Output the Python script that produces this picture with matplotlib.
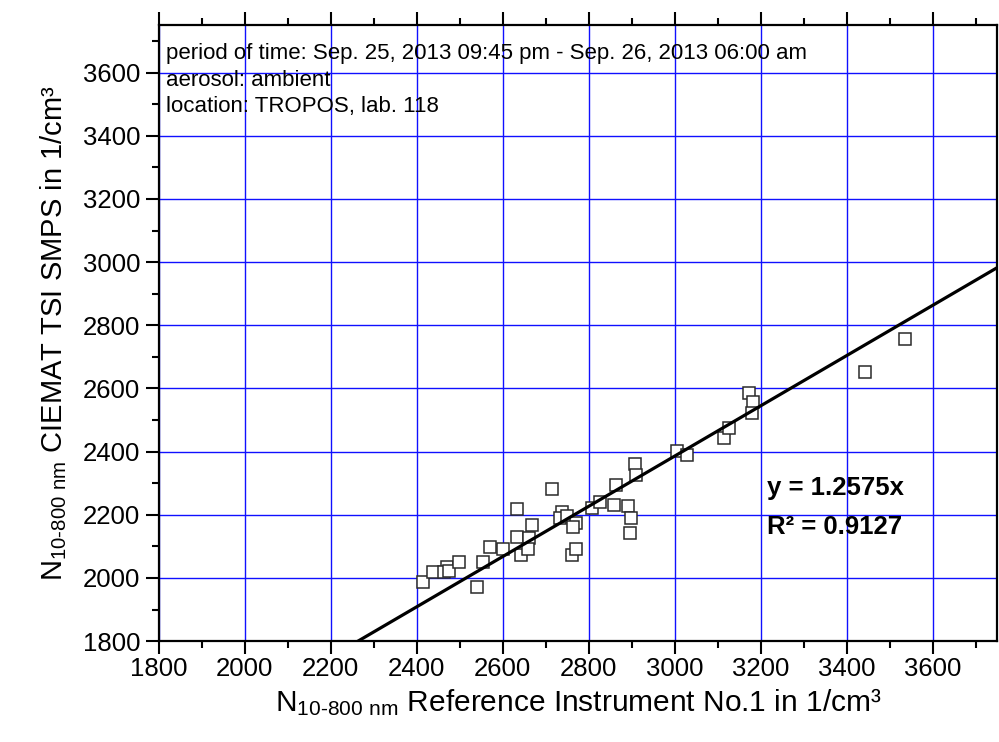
import matplotlib
matplotlib.use("Agg")
import matplotlib.pyplot as plt
from matplotlib.ticker import MultipleLocator

plt.rcParams['font.family'] = ['Liberation Sans', 'DejaVu Sans']
plt.rcParams['mathtext.fontset'] = 'custom'
plt.rcParams['mathtext.rm'] = 'Liberation Sans'
plt.rcParams['mathtext.default'] = 'regular'

# reference instrument vs CIEMAT SMPS (1/cm3)
ref_x = [2415, 2439, 2470, 2464, 2476, 2499, 2541, 2553, 2570, 2601,
         2634, 2633, 2642, 2662, 2658, 2669, 2715, 2739, 2733, 2749,
         2770, 2764, 2762, 2770, 2808, 2826, 2864, 2859, 2891, 2898,
         2895, 2908, 2909, 3005, 3028, 3114, 3127, 3174, 3183, 3181,
         3442, 3535]
smps_y = [1987, 2020, 2036, 2018, 2021, 2050, 1972, 2050, 2097, 2092,
          2219, 2128, 2072, 2127, 2093, 2167, 2281, 2210, 2189, 2195,
          2175, 2162, 2074, 2090, 2221, 2241, 2293, 2232, 2227, 2189,
          2142, 2361, 2326, 2402, 2390, 2444, 2474, 2585, 2558, 2523,
          2653, 2758]

fit_coef = 1.2575
fit_r2 = 0.9127
info_lines = ["period of time: Sep. 25, 2013 09:45 pm - Sep. 26, 2013 06:00 am",
              "aerosol: ambient",
              "location: TROPOS, lab. 118"]

fig = plt.figure(figsize=(9.99, 7.42), dpi=100)
ax = fig.add_axes([0.159, 0.136, 0.839, 0.830])

ax.set_xlim(1800, 3750)
ax.set_ylim(1800, 3750)

# fit line (drawn with x and y swapped, as in the original)
lx = [1800, 3750]
ly = [v / fit_coef for v in lx]
ax.plot(lx, ly, color='black', lw=2.3, zorder=4)

ax.plot(ref_x, smps_y, 's', ms=8, mfc='white', mec='#2a2a2a', mew=1.1, zorder=3)

ax.xaxis.set_major_locator(MultipleLocator(200))
ax.xaxis.set_minor_locator(MultipleLocator(100))
ax.yaxis.set_major_locator(MultipleLocator(200))
ax.yaxis.set_minor_locator(MultipleLocator(100))
ax.set_xticks([v for v in range(1800, 3601, 200)])
ax.set_yticks([v for v in range(1800, 3601, 200)])

ax.grid(True, which='major', color='#1010ff', lw=1.0)
ax.set_axisbelow(True)

for s in ax.spines.values():
    s.set_linewidth(1.6)
ax.tick_params(which='both', direction='out', top=True, right=False, width=1.5,
               labelsize=18.5)
ax.tick_params(axis='x', pad=2)
ax.tick_params(axis='y', pad=4)
ax.tick_params(which='major', length=9.5)
ax.tick_params(which='minor', length=5)

ax.set_xlabel(r'N$_{\mathregular{10\text{-}800\ nm}}$ Reference Instrument No.1 in 1/cm³',
              fontsize=21.5, labelpad=4)
ax.set_ylabel(r'N$_{\mathregular{10\text{-}800\ nm}}$ CIEMAT TSI SMPS in 1/cm³',
              fontsize=21, labelpad=10)

for i, line in enumerate(info_lines):
    ax.text(0.008, 0.945 - i * 0.043, line, transform=ax.transAxes,
            fontsize=16, va='baseline', ha='left')

ax.text(3216, 2262, 'y = %.4fx' % fit_coef, fontsize=18.5, fontweight='bold',
        va='baseline', ha='left')
ax.text(3216, 2139, 'R² = %.4f' % fit_r2, fontsize=18.5, fontweight='bold',
        va='baseline', ha='left')

fig.savefig('out.png', dpi=100)
